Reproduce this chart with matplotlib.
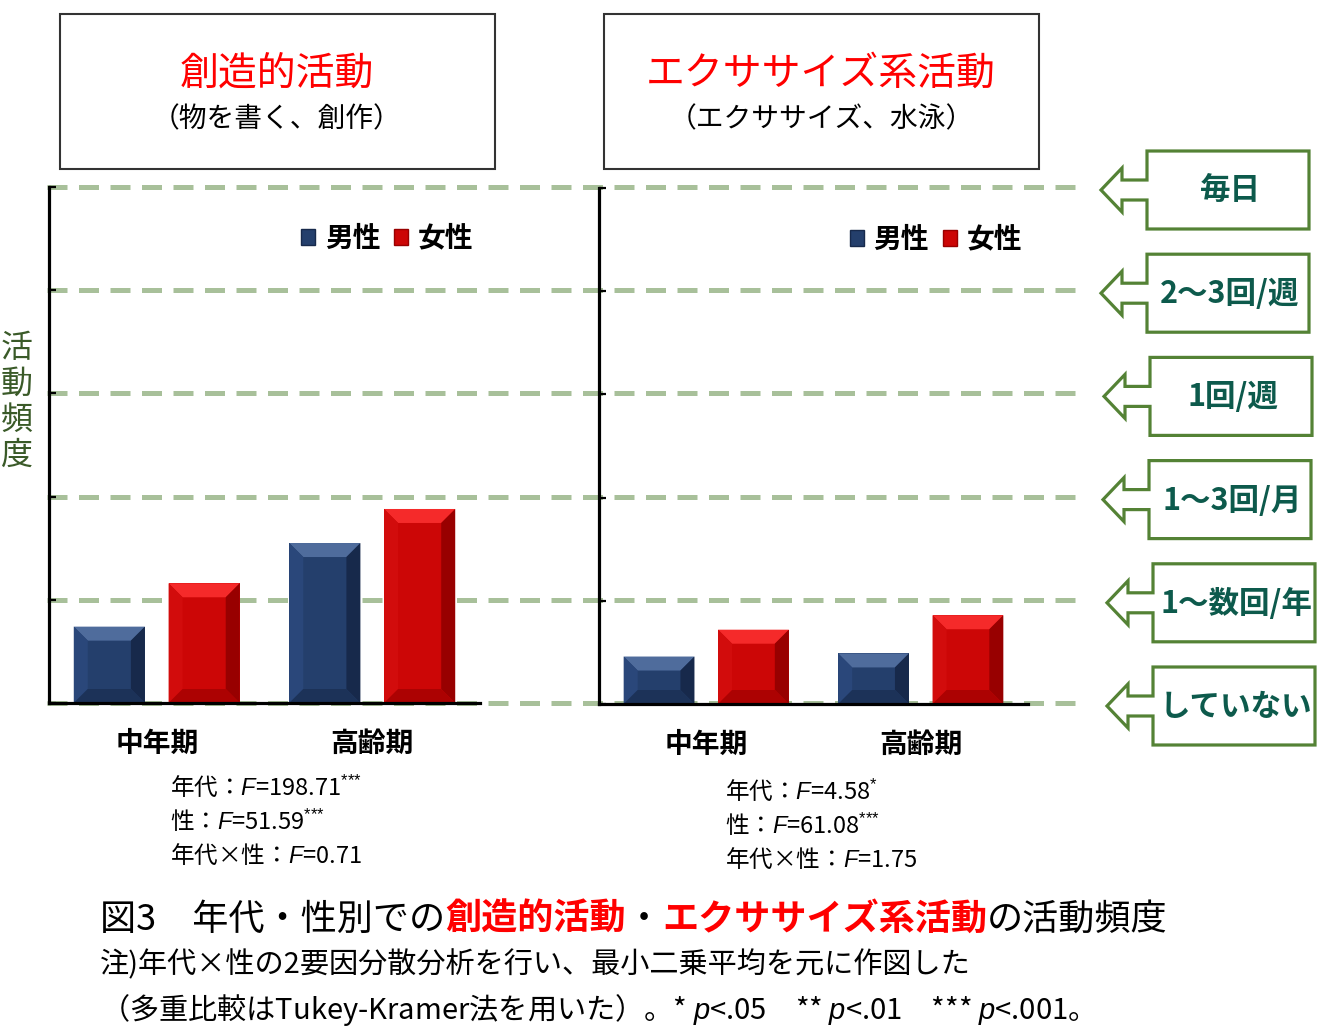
import matplotlib
matplotlib.use("Agg")
import matplotlib.pyplot as plt
import matplotlib.transforms as mtransforms
from matplotlib.patches import Polygon, Rectangle, Patch
import numpy as np

plt.rcParams['font.family'] = ['Noto Sans CJK JP', 'DejaVu Sans']
plt.rcParams['mathtext.fontset'] = 'custom'
plt.rcParams['mathtext.rm'] = 'Liberation Sans'
plt.rcParams['mathtext.it'] = 'Liberation Sans:italic'

# data (scale 0 = していない ... 5 = 毎日)
periods = ["中年期", "高齢期"]
sexes = ["男性", "女性"]
creative_male = [0.74, 1.55]
creative_female = [1.16, 1.88]
exercise_male = [0.46, 0.49]
exercise_female = [0.72, 0.86]
freq_labels = ["していない", "1～数回/年", "1～3回/月", "1回/週", "2～3回/週", "毎日"]
creative_stats = [r"年代：$F$=198.71$^{\text{***}}$", r"性：$F$=51.59$^{\text{***}}$", "年代×性：$F$=0.71"]
exercise_stats = [r"年代：$F$=4.58$^{\text{*}}$", r"性：$F$=61.08$^{\text{***}}$", "年代×性：$F$=1.75"]

W, H = 1318, 1029
male_c = dict(base="#243F6C", top="#4F6C9C", left="#2A477A", right="#17294B", bottom="#1C3258")
female_c = dict(base="#CC0606", top="#F52A2A", left="#D20C0C", right="#980000", bottom="#AC0202")
grid_c = "#A8C09A"
green = "#548235"
teal = "#0D5A4C"

fig = plt.figure(figsize=(W / 100, H / 100), dpi=100)

# background axes in pixel units (y downwards) for boxes and text
bg = fig.add_axes([0, 0, 1, 1], zorder=-1)
bg.set_xlim(0, W)
bg.set_ylim(H, 0)
bg.axis("off")

ax1 = fig.add_axes([49 / W, (H - 703) / H, 431 / W, 516 / H])
ax2 = fig.add_axes([599 / W, (H - 704) / H, 429 / W, 516 / H])


def bevel(ax, bar, c, px=14):
    x0, y0 = bar.get_x(), bar.get_y()
    x1, y1 = x0 + bar.get_width(), y0 + bar.get_height()
    xl, yl = ax.get_xlim(), ax.get_ylim()
    dx = px * (xl[1] - xl[0]) / ax.bbox.width
    dy = px * (yl[1] - yl[0]) / ax.bbox.height
    faces = [
        ([(x0, y1), (x1, y1), (x1 - dx, y1 - dy), (x0 + dx, y1 - dy)], c["top"]),
        ([(x0, y0), (x0, y1), (x0 + dx, y1 - dy), (x0 + dx, y0 + dy)], c["left"]),
        ([(x1, y0), (x1, y1), (x1 - dx, y1 - dy), (x1 - dx, y0 + dy)], c["right"]),
        ([(x0, y0), (x1, y0), (x1 - dx, y0 + dy), (x0 + dx, y0 + dy)], c["bottom"]),
    ]
    for pts, col in faces:
        ax.add_patch(Polygon(pts, closed=True, facecolor=col, edgecolor="none", zorder=3))


x = np.arange(len(periods))
for ax, male, female in [(ax1, creative_male, creative_female), (ax2, exercise_male, exercise_female)]:
    ax.set_facecolor("none")
    ax.set_xlim(-0.5, 1.5)
    ax.set_ylim(0, 5)
    bm = ax.bar(x - 0.22, male, width=0.33, color=male_c["base"], zorder=2)
    bf = ax.bar(x + 0.22, female, width=0.33, color=female_c["base"], zorder=2)
    for b in bm:
        bevel(ax, b, male_c)
    for b in bf:
        bevel(ax, b, female_c)
    for s in ["top", "right"]:
        ax.spines[s].set_visible(False)
    for s in ["left", "bottom"]:
        ax.spines[s].set_linewidth(2.3)
        ax.spines[s].set_zorder(4)
    ax.set_yticks(range(6))
    ax.set_yticklabels([])
    ax.tick_params(axis="y", direction="in", length=5, width=1.6)
    ax.set_xticks(x)
    ax.set_xticklabels(periods, fontsize=20, fontweight="bold")
    ax.tick_params(axis="x", length=0, pad=19)
    handles = [Patch(facecolor=male_c["base"], edgecolor=male_c["right"]),
               Patch(facecolor=female_c["base"], edgecolor=female_c["right"])]
    ax.legend(handles, sexes, loc="center", bbox_to_anchor=(0.785, 0.9), ncol=2, frameon=False,
              prop=dict(size=20, weight="bold"), handlelength=0.5, handleheight=0.5,
              handletextpad=0.35, columnspacing=0.5, borderaxespad=0)

# dashed frequency lines spanning both panels (y from the left panel's scale)
blend = mtransforms.blended_transform_factory(bg.transData, ax1.transData)
for lvl in range(len(freq_labels)):
    bg.plot([47, 1085], [lvl, lvl], transform=blend, color=grid_c, lw=3.6,
            linestyle=(0, (4, 2.3)), solid_capstyle="butt", dash_capstyle="butt")

# frequency callouts on the right
box_left = [1153, 1153, 1149, 1150, 1147, 1147]
to_bg = ax1.transData + bg.transData.inverted()
for lvl, label in enumerate(freq_labels):
    cy = to_bg.transform((0, lvl))[1] + 3
    L = box_left[lvl]
    pts = [(L, cy - 39), (L + 162, cy - 39), (L + 162, cy + 39), (L, cy + 39), (L, cy + 10),
           (L - 25, cy + 10), (L - 25, cy + 22), (L - 46, cy), (L - 25, cy - 22),
           (L - 25, cy - 10), (L, cy - 10)]
    bg.add_patch(Polygon(pts, closed=True, facecolor="white", edgecolor=green, lw=2.3,
                         joinstyle="miter"))
    bg.text(L + 83, cy + 1, label, ha="center", va="center", fontsize=22,
            fontweight="bold", color=teal)

# title boxes
for x0, title, sub in [(60, "創造的活動", "（物を書く、創作）"),
                       (604, "エクササイズ系活動", "（エクササイズ、水泳）")]:
    bg.add_patch(Rectangle((x0, 14), 435, 155, facecolor="white", edgecolor="#333333", lw=1.5))
    bg.text(x0 + 217, 74, title, ha="center", va="center", fontsize=28, color="#FF0000")
    bg.text(x0 + 217, 119, sub, ha="center", va="center", fontsize=20, color="black")

# y label, stacked vertically
for i, ch in enumerate("活動頻度"):
    bg.text(17, 348 + i * 36, ch, ha="center", va="center", fontsize=23, color="#3A5A28")

# ANOVA results
for x0, y0, lines in [(170, 787, creative_stats), (725, 791, exercise_stats)]:
    for i, s in enumerate(lines):
        bg.text(x0, y0 + i * 34, s, ha="left", va="center", fontsize=17, color="black")


def multicolor(x0, y0, parts, size):
    s, c, w = parts[0]
    t = bg.text(x0, y0, s, color=c, fontweight=w, fontsize=size, ha="left", va="center")
    for s, c, w in parts[1:]:
        t = bg.annotate(s, xy=(1, 0), xycoords=t, ha="left", va="bottom",
                        color=c, fontweight=w, fontsize=size)


multicolor(100, 920, [("図3　年代・性別での", "black", "normal"),
                      ("創造的活動", "#FF0000", "bold"),
                      ("・", "black", "normal"),
                      ("エクササイズ系活動", "#FF0000", "bold"),
                      ("の活動頻度", "black", "normal")], 26)

bg.text(100, 965, "注)年代×性の2要因分散分析を行い、最小二乗平均を元に作図した",
        ha="left", va="center", fontsize=21)
bg.text(100, 1010, "（多重比較はTukey-Kramer法を用いた）。* $p$<.05　** $p$<.01　*** $p$<.001。",
        ha="left", va="center", fontsize=21)

fig.savefig("out.png", dpi=100)
